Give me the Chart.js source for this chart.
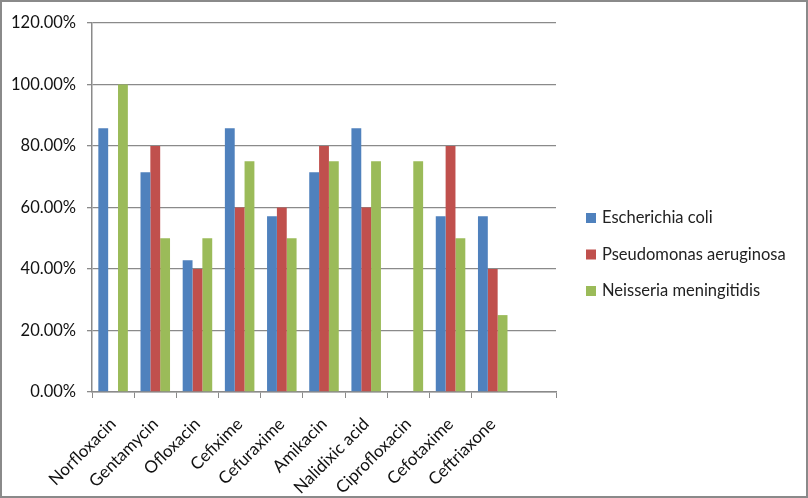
<!DOCTYPE html>
<html>
<head>
<meta charset="utf-8">
<script src="https://cdn.jsdelivr.net/npm/chart.js@4/dist/chart.umd.min.js"></script>
<style>
  html, body { margin: 0; padding: 0; background: #fff; }
  #wrap { position: relative; width: 804px; height: 494px; border: 2px solid #8a8a8a; }
</style>
</head>
<body>
<div id="wrap"><canvas id="chart" width="804" height="494"></canvas></div>
<script>
// antibiotics (last slot is an empty category, like the original sheet)
const categories = ["Norfloxacin", "Gentamycin", "Ofloxacin", "Cefixime", "Cefuraxime",
  "Amikacin", "Nalidixic acid", "Ciprofloxacin", "Cefotaxime", "Ceftriaxone", ""];
const seriesNames = ["Escherichia coli", "Pseudomonas aeruginosa", "Neisseria meningitidis"];
const ecoli = [85.71, 71.43, 42.86, 85.71, 57.14, 71.43, 85.71, 0, 57.14, 57.14, null];
const pseudomonas = [0, 80, 40, 60, 60, 80, 60, 0, 80, 40, null];
const neisseria = [100, 50, 50, 75, 50, 75, 75, 75, 50, 25, null];
const yTicks = [0, 20, 40, 60, 80, 100, 120];

const colors = ["#4F81BD", "#C0504D", "#9BBB59"];
const gridColor = "#8a8a8a";
const font = "Lato, 'Liberation Sans', Arial, sans-serif";

// legend on the right, drawn at fixed spots like the excel one
const sideLegend = {
  id: "sideLegend",
  afterDraw(chart) {
    const c = chart.ctx;
    c.save();
    c.font = "16.5px " + font;
    c.textBaseline = "middle";
    chart.data.datasets.forEach((ds, i) => {
      const y = 216 + i * 36.5;
      c.fillStyle = ds.backgroundColor;
      c.fillRect(584, y - 5, 10, 10);
      c.fillStyle = "#222";
      c.fillText(ds.label, 600, y);
    });
    c.restore();
  },
};

const ctx = document.getElementById("chart").getContext("2d");
new Chart(ctx, {
  type: "bar",
  data: {
    labels: categories,
    datasets: [ecoli, pseudomonas, neisseria].map((d, i) => ({
      label: seriesNames[i],
      data: d,
      backgroundColor: colors[i],
      borderWidth: 0,
      barPercentage: 1.0,
      categoryPercentage: 0.7,
    })),
  },
  plugins: [sideLegend],
  options: {
    responsive: false,
    animation: false,
    layout: { padding: { left: 0, right: 250, top: 20, bottom: 0 } },
    plugins: {
      tooltip: { enabled: false },
      legend: { display: false },
    },
    scales: {
      x: {
        offset: true,
        afterFit: (s) => { s.height = 104; },
        grid: {
          offset: true,
          drawOnChartArea: false,
          drawTicks: true,
          tickLength: 6,
          // the tick before the blank last slot is not shown in the original
          color: (c) => (c.index === 10 ? "rgba(0,0,0,0)" : gridColor),
        },
        border: { color: gridColor, width: 1.5 },
        ticks: {
          autoSkip: false,
          maxRotation: 45,
          minRotation: 45,
          color: "#111",
          font: { family: font, size: 17 },
          padding: 16,
        },
      },
      y: {
        min: 0,
        max: 120,
        afterFit: (s) => { s.width = 90; },
        afterBuildTicks: (axis) => {
          axis.ticks = yTicks.map((v) => ({ value: v }));
        },
        grid: { color: gridColor, lineWidth: 1.3, tickLength: 5 },
        border: { color: gridColor, width: 1.5 },
        ticks: {
          color: "#111",
          font: { family: font, size: 16.5 },
          padding: 11,
          callback: (v) => v.toFixed(2) + "%",
        },
      },
    },
  },
});
</script>
</body>
</html>
